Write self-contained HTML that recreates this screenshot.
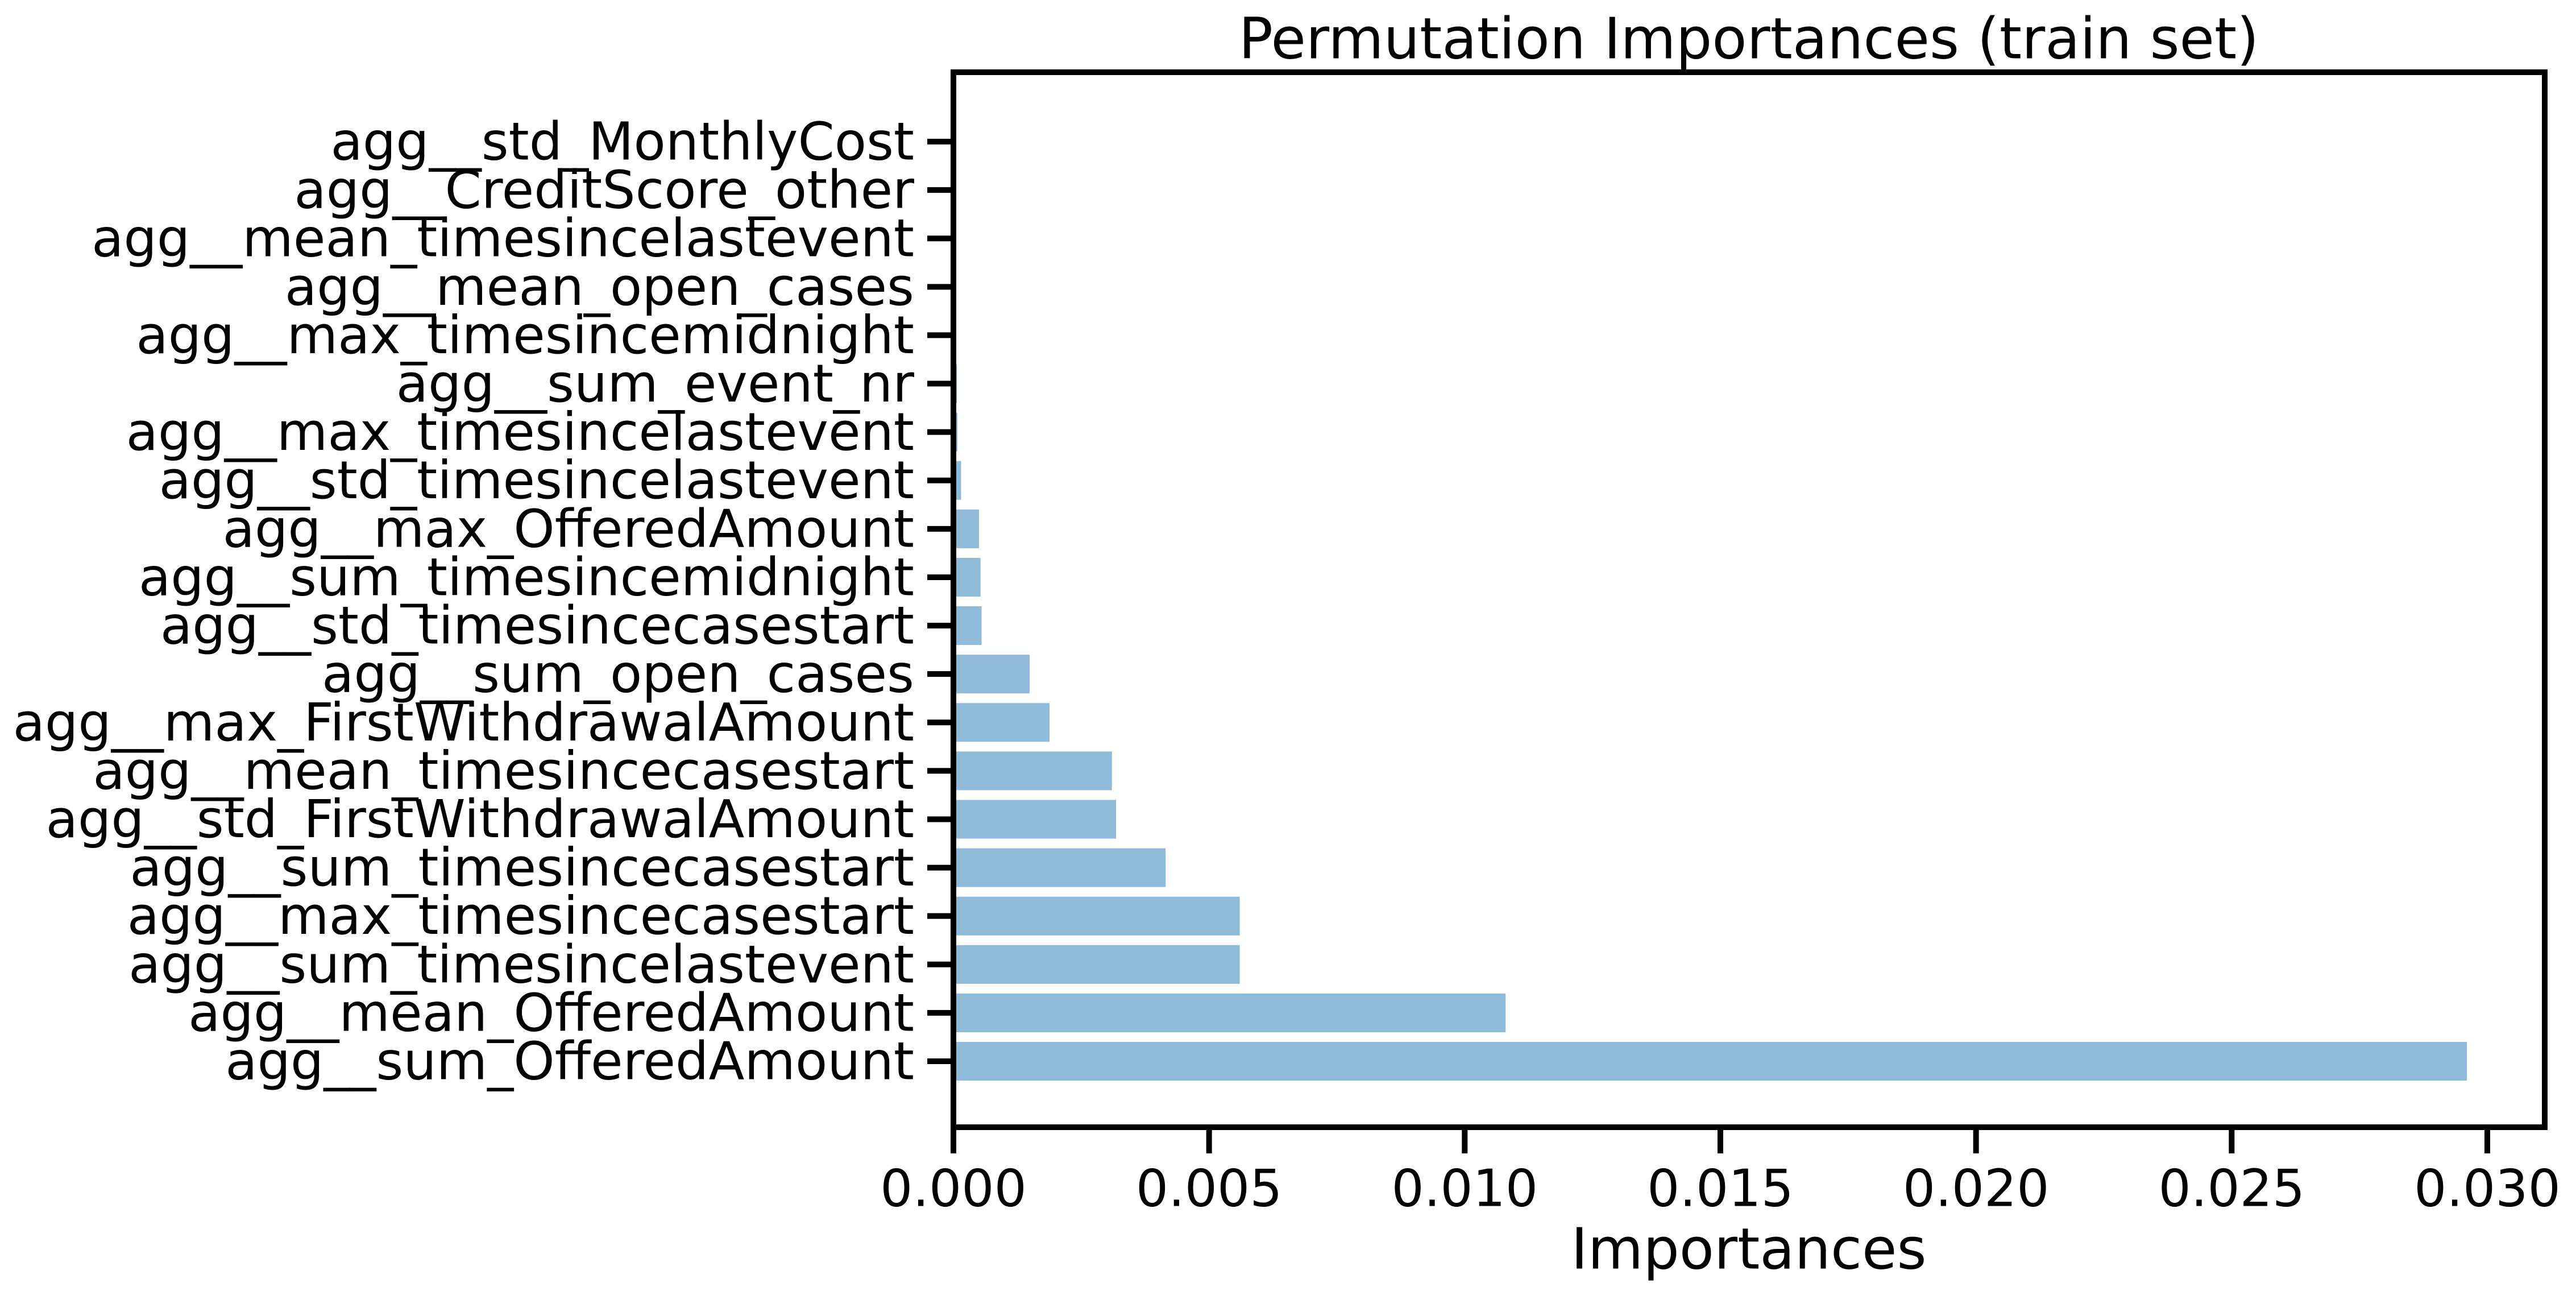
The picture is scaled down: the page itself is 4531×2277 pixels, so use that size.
<!DOCTYPE html>
<html><head><meta charset="utf-8"><style>
html,body{margin:0;padding:0;background:#fff;}
svg{display:block;font-family:"DejaVu Sans","Liberation Sans",sans-serif;}
</style></head><body>
<svg id="chart" width="4531" height="2277" viewBox="0 0 4531 2277" xmlns="http://www.w3.org/2000/svg">
<rect width="4531" height="2277" fill="#fff"/>
<text x="3076" y="68" font-size="100" text-anchor="middle" dominant-baseline="central" fill="#000">Permutation Importances (train set)</text>
<g id="bars"></g>
<g id="yticks"></g>
<g id="xticks"></g>
<rect x="1677" y="127" width="2799" height="1855" fill="none" stroke="#000" stroke-width="10"/>
<text x="3076" y="2196" font-size="100" text-anchor="middle" dominant-baseline="central" fill="#000">Importances</text>
</svg>
<script>
const categories = ["agg__std_MonthlyCost","agg__CreditScore_other","agg__mean_timesincelastevent","agg__mean_open_cases","agg__max_timesincemidnight","agg__sum_event_nr","agg__max_timesincelastevent","agg__std_timesincelastevent","agg__max_OfferedAmount","agg__sum_timesincemidnight","agg__std_timesincecasestart","agg__sum_open_cases","agg__max_FirstWithdrawalAmount","agg__mean_timesincecasestart","agg__std_FirstWithdrawalAmount","agg__sum_timesincecasestart","agg__max_timesincecasestart","agg__sum_timesincelastevent","agg__mean_OfferedAmount","agg__sum_OfferedAmount"];
const importances = [0,0,0,0,0.00001,0.00007,0.00008,0.00015,0.0005,0.00053,0.00055,0.00149,0.00188,0.0031,0.00318,0.00415,0.0056,0.0056,0.0108,0.0296];
const xTicks = [0,0.005,0.010,0.015,0.020,0.025,0.030];
const xTickLabels = ["0.000","0.005","0.010","0.015","0.020","0.025","0.030"];
const NS="http://www.w3.org/2000/svg";
const x0=1677, xPer=(4375-1677)/0.030;
function xs(v){return x0+v*xPer;}
const yTop=249, yBot=1866;
function ys(i){return yTop+i*(yBot-yTop)/(categories.length-1);}
const step=(yBot-yTop)/(categories.length-1), bh=step*0.8;
function mk(t,a,p){const e=document.createElementNS(NS,t);for(const k in a)e.setAttribute(k,a[k]);p.appendChild(e);return e;}
const gb=document.getElementById('bars'),gy=document.getElementById('yticks'),gx=document.getElementById('xticks');
categories.forEach((c,i)=>{
  const y=ys(i);
  const r=mk('rect',{x:xs(0),y:y-bh/2,width:Math.max(0,xs(importances[i])-xs(0)),height:bh,fill:'#8fbbd9'},gb);
  
  
  const l=mk('line',{x1:1631,x2:1677,y1:y,y2:y,stroke:'#000','stroke-width':10},gy);
  
  
  const t=mk('text',{x:1608,y:y,'font-size':92,'text-anchor':'end','dominant-baseline':'central',fill:'#000'},gy);
  t.textContent=c;
  
  
});
xTicks.forEach((v,i)=>{
  const x=xs(v);
  const l=mk('line',{x1:x,x2:x,y1:1982,y2:2028,stroke:'#000','stroke-width':10},gx);
  
  
  const t=mk('text',{x:x,y:2090,'font-size':90,'text-anchor':'middle','dominant-baseline':'central',fill:'#000'},gx);
  t.textContent=xTickLabels[i];
  
  
});
</script>
</body></html>
